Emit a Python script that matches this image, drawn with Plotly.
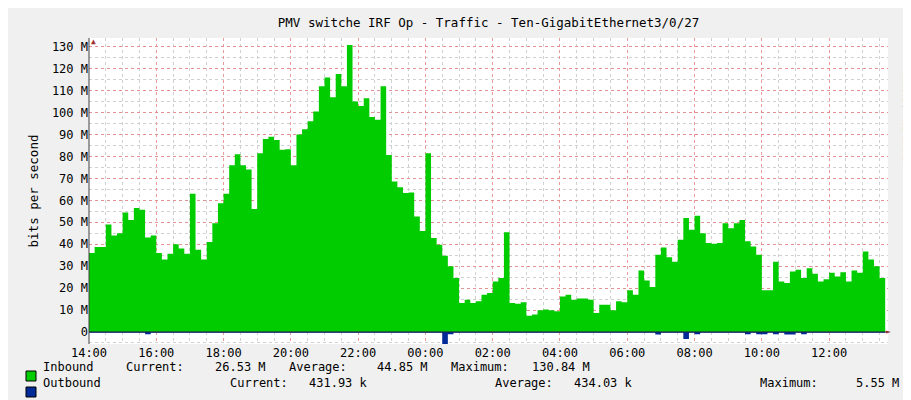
import pandas as pd
import plotly.graph_objects as go

# 10-minute samples from 14:00 to 13:40 next day, values in Mbit/s
start = "2024-03-04 14:00"
inbound = [
    36, 38.7, 38.7, 49, 44, 45, 54.5, 51, 56.5, 55.7,
    43, 44, 36, 33, 35.7, 40, 38, 35.7, 63, 37.5,
    33, 41, 49.6, 58.7, 63, 76, 81, 76, 74, 56,
    81.5, 88, 89, 87.5, 83, 83.3, 76, 90, 92.4, 96,
    100.5, 112, 116, 107, 117.6, 112, 130.8, 105, 103, 106.5,
    98, 96.7, 112, 80.7, 68.6, 66, 63.3, 63.6, 52.6, 46,
    81.5, 42.8, 39.8, 34.7, 30, 24.6, 13.2, 14.7, 13.2, 14,
    17, 17.8, 23, 24.6, 45.4, 13.2, 12.9, 13.5, 7.4, 7.9,
    9.9, 10.2, 9.9, 9.4, 16.2, 17, 14.7, 15.2, 15.2, 14.7,
    8.6, 12.4, 12.4, 9.9, 14, 13.5, 19, 17, 28, 23.5,
    20.5, 35.2, 38.5, 34, 32, 42, 51.9, 46.6, 53, 45,
    40.5, 40.2, 40.5, 49.6, 47.3, 49.6, 51, 41.3, 39, 35.2,
    19, 19, 32, 23, 22.3, 27.6, 28.4, 24.6, 29, 26.5,
    23, 24, 27, 25.3, 27.2, 23, 28, 27, 36.7, 33,
    30, 24.6, 26.5,
]
outbound = [
    0.4, 0.4, 0.4, 0.4, 0.4, 0.4, 0.4, 0.4, 0.4, 0.4,
    1.0, 0.4, 0.4, 0.4, 0.4, 0.4, 0.4, 0.4, 0.4, 0.4,
    0.4, 0.4, 0.4, 0.4, 0.4, 0.4, 0.4, 0.4, 0.4, 0.4,
    0.4, 0.4, 0.4, 0.4, 0.4, 0.4, 0.4, 0.4, 0.4, 0.4,
    0.4, 0.4, 0.4, 0.4, 0.4, 0.4, 0.4, 0.4, 0.4, 0.4,
    0.4, 0.4, 0.4, 0.4, 0.4, 0.4, 0.4, 0.4, 0.4, 0.4,
    0.4, 0.4, 0.4, 5.55, 1.0, 0.4, 0.4, 0.4, 0.4, 0.4,
    0.4, 0.4, 0.4, 0.4, 0.4, 0.4, 0.4, 0.4, 0.4, 0.4,
    0.4, 0.4, 0.4, 0.4, 0.4, 0.4, 0.4, 0.4, 0.4, 0.4,
    0.4, 0.4, 0.4, 0.4, 0.4, 0.4, 0.4, 0.4, 0.4, 0.4,
    0.4, 1.2, 0.4, 0.4, 0.4, 0.4, 3.2, 0.4, 1.0, 0.4,
    0.4, 0.4, 0.4, 0.4, 0.4, 0.4, 0.4, 1.0, 0.4, 1.0,
    1.0, 0.4, 1.0, 0.4, 1.2, 1.2, 0.4, 1.0, 0.4, 0.4,
    0.4, 0.4, 0.4, 0.4, 0.4, 0.4, 0.4, 0.4, 0.4, 0.4,
    0.4, 0.4, 0.43,
]
ytick_vals = list(range(0, 140, 10))
ytick_text = ["0"] + [f"{v} M" for v in ytick_vals[1:]]
legend_rows = [
    ("Inbound", "#00CC00", [("Current:", 116, "l"), ("26.53 M", 260, "r"), ("Average:", 279, "l"),
                            ("44.85 M", 422, "r"), ("Maximum:", 441, "l"), ("130.84 M", 584, "r")]),
    ("Outbound", "#002A97", [("Current:", 220, "l"), ("431.93 k", 362, "r"), ("Average:", 485, "l"),
                             ("434.03 k", 627, "r"), ("Maximum:", 750, "l"), ("5.55 M", 893, "r")]),
]

times = pd.date_range(start, periods=len(inbound), freq="10min")
mono = "DejaVu Sans Mono"
W, H = 911, 400
L, R, T, B = 81, 880, 30, 336

fig = go.Figure()
fig.add_trace(go.Scatter(x=times, y=inbound, mode="lines", line=dict(width=0, shape="hv"),
                         fill="tozeroy", fillcolor="#00CC00", hoverinfo="skip"))
fig.add_trace(go.Scatter(x=times, y=[-v for v in outbound], mode="lines",
                         line=dict(width=0, shape="hv"), fill="tozeroy", fillcolor="#002A97",
                         hoverinfo="skip"))

fig.update_layout(
    width=W, height=H, showlegend=False,
    margin=dict(l=L, r=W - R, t=T, b=H - B, autoexpand=False),
    paper_bgcolor="#F0F0F0", plot_bgcolor="white",
    font=dict(family=mono, size=12, color="#000000"),
    title=dict(text="PMV switche IRF Op - Traffic - Ten-GigabitEthernet3/0/27",
               x=0.5, xref="paper", y=1 - 15 / H, yanchor="middle",
               font=dict(family=mono, size=12.5)),
)
fig.update_xaxes(
    automargin=False,
    range=[times[0], times[-1] + pd.Timedelta(minutes=5)],
    dtick=2 * 3600 * 1000, tickformat="%H:%M", tick0=times[0],
    showgrid=True, gridcolor="rgba(230,130,130,0.8)", griddash="dot", gridwidth=1,
    minor=dict(dtick=30 * 60 * 1000, showgrid=True, gridcolor="#D0D0D0", griddash="dot"),
    ticks="", showline=False, zeroline=False, tickfont=dict(size=12),
)
fig.update_yaxes(
    automargin=False,
    range=[-5.5, 134], tickvals=ytick_vals, ticktext=ytick_text,
    showgrid=True, gridcolor="rgba(230,130,130,0.8)", griddash="dot",
    minor=dict(dtick=5, showgrid=True, gridcolor="#D0D0D0", griddash="dot"),
    zeroline=False, ticks="", tickfont=dict(size=12),
    title=dict(text="bits per second", font=dict(size=12.5), standoff=10),
)

# axes: zero line and left axis, with red arrows
fig.add_hline(y=0, line=dict(color="#202040", width=1))
fig.add_shape(type="line", xref="paper", yref="paper", x0=0, x1=0, y0=0, y1=1.0,
              line=dict(color="#404040", width=1))
fig.add_annotation(xref="paper", yref="paper", x=0, y=1.01, text="▲", showarrow=False,
                   font=dict(size=8, color="#A03030"))
fig.add_annotation(xref="paper", yref="y", x=1.006, y=0, text="►", showarrow=False,
                   font=dict(size=8, color="#A03030"))

fig.add_annotation(xref="paper", yref="paper", x=(903 - L) / (R - L), y=(B - 62) / (B - T),
                   text="RRDTOOL / TOBI OETIKER", textangle=90, showarrow=False,
                   font=dict(size=7, color="#A0A0A0", family=mono))


def px(xp):
    return (xp - L) / (R - L)


def py(yp):
    return (B - yp) / (B - T)


for i, (name, color, parts) in enumerate(legend_rows):
    yc = 368 + 16 * i
    fig.add_shape(type="rect", xref="paper", yref="paper", x0=px(18), x1=px(28),
                  y0=py(yc + 5), y1=py(yc - 5), fillcolor=color, line=dict(color="#000", width=1))
    fig.add_annotation(xref="paper", yref="paper", x=px(33), y=py(yc), text=name,
                       xanchor="left", showarrow=False, font=dict(size=12))
    for text, xp, anchor in parts:
        fig.add_annotation(xref="paper", yref="paper", x=px(xp), y=py(yc), text=text,
                           xanchor="left" if anchor == "l" else "right", showarrow=False,
                           font=dict(size=12))

fig.write_html("out.html")
